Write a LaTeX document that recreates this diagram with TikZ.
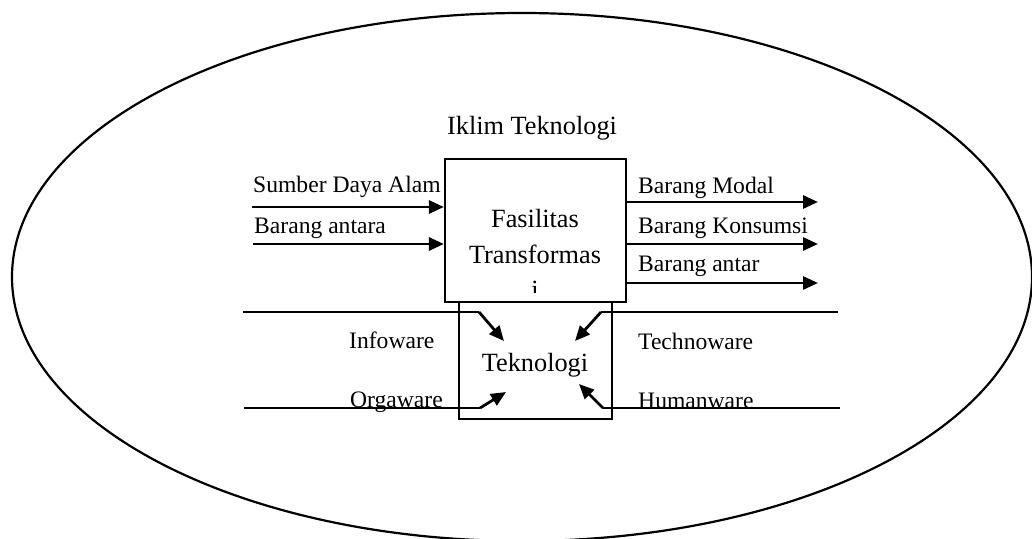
\documentclass[tikz,border=0pt]{standalone}
\usepackage{fontspec}
\setmainfont{Liberation Serif}
\usetikzlibrary{arrows.meta}
\begin{document}
\begin{tikzpicture}[x=1pt,y=-1pt,
  lbl/.style={font=\fontsize{23.6}{26}\selectfont, inner sep=0pt, anchor=base west},
  big/.style={font=\fontsize{26.3}{30}\selectfont, inner sep=0pt, anchor=base},
  boxst/.style={draw, line width=2.2pt, inner sep=0pt},
  arr/.style={line width=2.8pt, -{Triangle[length=15pt,width=13pt]}},
  ln/.style={line width=2.2pt}]
\useasboundingbox (0,0) rectangle (1032,538);
\draw[line width=2.2pt] (522,277) ellipse [x radius=510, y radius=264];
% boxes
\node[boxst, minimum width=153pt, minimum height=117pt] (tek) at (535.5,360.5) {};
\node[boxst, fill=white, minimum width=181pt, minimum height=143pt] (fas) at (535.5,230.5) {};
% texts
\node[big] (iklim) at (532,134) {Iklim Teknologi};
\node[big] (f1) at (535,227) {Fasilitas};
\node[big] (f2) at (535,263) {Transformas};
\begin{scope}
\clip (447,270) rectangle (624,292);
\node[big] (f3) at (535,298) {i};
\end{scope}
\node[big] (tekt) at (535,371) {Teknologi};
\node[lbl] (sda) at (253,192) {Sumber Daya Alam};
\node[lbl] (ba) at (254,233) {Barang antara};
\node[lbl] (bm) at (638,193) {Barang Modal};
\node[lbl] (bk) at (638,233) {Barang Konsumsi};
\node[lbl] (bat) at (638,271) {Barang antar};
\node[lbl] (info) at (349,348) {Infoware};
\node[lbl] (org) at (350,407) {Orgaware};
\node[lbl] (techno) at (638,349) {Technoware};
\node[lbl] (human) at (638,408) {Humanware};
% input arrows
\coordinate (in1) at (252,207);
\coordinate (in2) at (253,244);
\draw[arr] (in1) -- (in1 -| fas.west);
\draw[arr] (in2) -- (in2 -| fas.west);
% output arrows
\coordinate (o1) at (818,202);
\coordinate (o2) at (818,244);
\coordinate (o3) at (818,283);
\draw[arr] (o1 -| fas.east) -- (o1);
\draw[arr] (o2 -| fas.east) -- (o2);
\draw[arr] (o3 -| fas.east) -- (o3);
% technology component lines
\coordinate (l1a) at (243,312); \coordinate (l1b) at (479,312); \coordinate (l1c) at (504,341);
\coordinate (l2a) at (244,408); \coordinate (l2b) at (480,408); \coordinate (l2c) at (506,392);
\coordinate (r1a) at (838,312); \coordinate (r1b) at (601,312); \coordinate (r1c) at (575,341);
\coordinate (r2a) at (840,408); \coordinate (r2b) at (603,408); \coordinate (r2c) at (579,384);
\draw[ln] (l1a) -- (l1b);
\draw[arr] (l1b) -- (l1c);
\draw[ln] (l2a) -- (l2b);
\draw[arr] (l2b) -- (l2c);
\draw[ln] (r1a) -- (r1b);
\draw[arr] (r1b) -- (r1c);
\draw[ln] (r2a) -- (r2b);
\draw[arr] (r2b) -- (r2c);
\end{tikzpicture}
\end{document}
